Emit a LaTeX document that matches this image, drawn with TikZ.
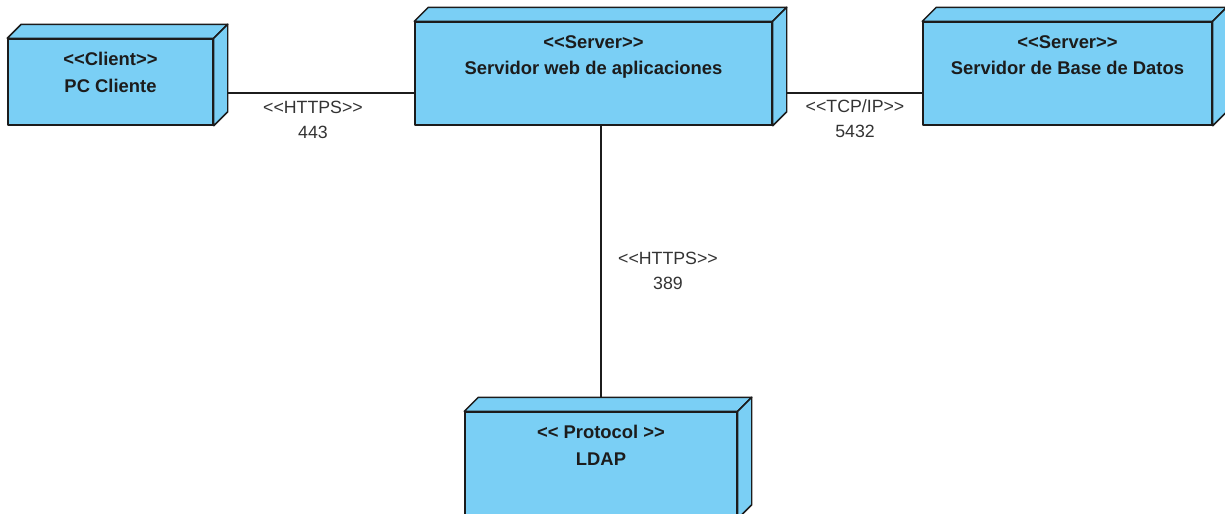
\documentclass[tikz,border=0pt]{standalone}
\usepackage{fontspec}
\setmainfont{Liberation Sans}
\usetikzlibrary{fit}
\definecolor{nodeblue}{HTML}{7ACFF5}
\definecolor{outline}{HTML}{1C1C1C}
\definecolor{tagtext}{HTML}{333333}
% << and >> without the guillemet mapping
\newcommand\ltlt{<\kern0pt<}
\newcommand\gtgt{>\kern0pt>}
% top and side face of a node box
\newcommand\nodecube[1]{%
  \filldraw[face] (#1.north west) -- ++(14,-14) -- ([shift={(14,-14)}]#1.north east) -- (#1.north east) -- cycle;
  \filldraw[face] (#1.north east) -- ++(14,-14) -- ([shift={(14,-14)}]#1.south east) -- (#1.south east) -- cycle;}

\begin{document}
\begin{tikzpicture}[x=0.75pt,y=-0.75pt,line join=round,
  face/.style={fill=nodeblue,draw=outline,line width=1.1pt},
  front/.style={face,inner sep=0pt},
  title/.style={anchor=north,align=center,text=outline,font=\fontsize{13.8}{20}\selectfont\bfseries},
  link/.style={draw=outline,line width=0.9pt},
  tag/.style={align=center,text=tagtext,font=\fontsize{13.3}{18.75}\selectfont}]
  \useasboundingbox (0,0) rectangle (1225,514);

  % nodes
  \node[front,fit={(8,39)(213,125)}] (cliente) {};
  \node[front,fit={(415,22)(772,125)}] (web) {};
  \node[front,fit={(923,22)(1212,125)}] (datos) {};
  \node[front,fit={(465,412)(737,518)}] (ldap) {};
  \nodecube{cliente}
  \nodecube{web}
  \nodecube{datos}
  \nodecube{ldap}

  \node[title] (cliente-txt) at ([yshift=-7pt]cliente.north) {\ltlt Client\gtgt\\PC Cliente};
  \node[title] (web-txt) at ([yshift=-7pt]web.north) {\ltlt Server\gtgt\\Servidor web de aplicaciones};
  \node[title] (datos-txt) at ([yshift=-7pt]datos.north) {\ltlt Server\gtgt\\Servidor de Base de Datos};
  \node[title] (ldap-txt) at ([yshift=-7pt]ldap.north) {\ltlt{} Protocol \gtgt\\LDAP};

  % links
  \draw[link] ([shift={(14,11)}]cliente.east) coordinate (l1) -- (l1 -| web.west);
  \draw[link] ([shift={(14,19.5)}]web.east) coordinate (l2) -- (l2 -| datos.west);
  \draw[link] (ldap.north |- web.south) -- ([yshift=10.5pt]ldap.north);

  \node[tag] (https-443) at (313,120) {\ltlt HTTPS\gtgt\\443};
  \node[tag] (tcp-5432) at (855,119) {\ltlt TCP/IP\gtgt\\5432};
  \node[tag] (https-389) at (668,271) {\ltlt HTTPS\gtgt\\389};
\end{tikzpicture}
\end{document}
